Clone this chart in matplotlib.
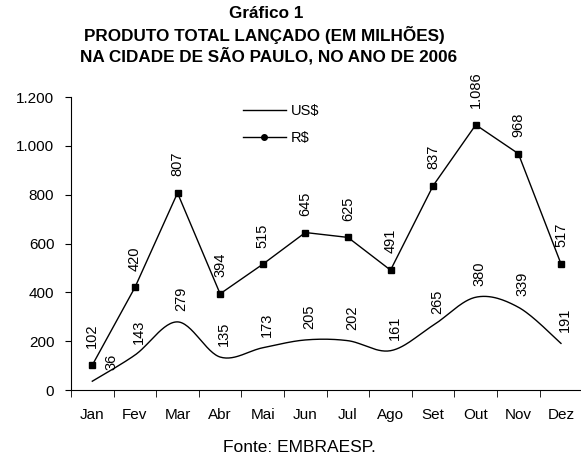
import numpy as np
import matplotlib.pyplot as plt
from matplotlib.lines import Line2D

plt.rcParams['font.family'] = ['Liberation Sans', 'DejaVu Sans']

# data
meses = ['Jan', 'Fev', 'Mar', 'Abr', 'Mai', 'Jun', 'Jul', 'Ago', 'Set', 'Out', 'Nov', 'Dez']
usd = [36, 143, 279, 135, 173, 205, 202, 161, 265, 380, 339, 191]
brl = [102, 420, 807, 394, 515, 645, 625, 491, 837, 1086, 968, 517]
yticks = [0, 200, 400, 600, 800, 1000, 1200]
ytick_labels = ['0', '200', '400', '600', '800', '1.000', '1.200']


def fmt(v):
    # thousands separator as dot
    return f'{v:,}'.replace(',', '.')


def smooth(x, y, n=30):
    # Catmull-Rom spline through the points (like a "smoothed line")
    x = np.asarray(x, float)
    y = np.asarray(y, float)
    px = np.concatenate([[x[0]], x, [x[-1]]])
    py = np.concatenate([[y[0]], y, [y[-1]]])
    xs, ys = [], []
    t = np.linspace(0, 1, n)
    for i in range(1, len(px) - 2):
        for p, out in ((px, xs), (py, ys)):
            p0, p1, p2, p3 = p[i - 1], p[i], p[i + 1], p[i + 2]
            out.extend(0.5 * (2 * p1 + (-p0 + p2) * t
                              + (2 * p0 - 5 * p1 + 4 * p2 - p3) * t ** 2
                              + (-p0 + 3 * p1 - 3 * p2 + p3) * t ** 3))
    return np.array(xs), np.array(ys)


fig = plt.figure(figsize=(5.81, 4.57), dpi=100)
ax = fig.add_axes([0.1222, 0.1466, 0.88, 0.6411])

x = np.arange(len(meses))
sx, sy = smooth(x, usd)
ax.plot(sx, sy, color='black', lw=1.0)
ax.plot(x, brl, color='black', lw=1.0, marker='s', markersize=4)

# data labels
for xi, v in zip(x, brl):
    ax.annotate(fmt(v), (xi, v), xytext=(0, 12), textcoords='offset points',
                rotation=90, ha='center', va='bottom', fontsize=10.5)
for xi, v in zip(x, usd):
    dx = 14 if xi == 0 else 3
    ax.annotate(fmt(v), (xi, v), xytext=(dx, 8), textcoords='offset points',
                rotation=90, ha='center', va='bottom', fontsize=10.5)

ax.set_xlim(-0.5, len(meses) - 0.5)
ax.set_ylim(0, 1200)
ax.set_yticks(yticks)
ax.set_yticklabels(ytick_labels, fontsize=11)
ax.set_xticks(x)
ax.set_xticklabels(meses, fontsize=11)
ax.set_xticks(np.arange(-0.5, len(meses), 1), minor=True)
ax.tick_params(axis='x', which='major', length=0, pad=13)
ax.tick_params(axis='x', which='minor', length=5, direction='out')
ax.tick_params(axis='y', length=4, direction='out', pad=8)
for s in ['top', 'right']:
    ax.spines[s].set_visible(False)

handles = [Line2D([], [], color='black', lw=1.0),
           Line2D([], [], color='black', lw=1.0, marker='o', markersize=4)]
ax.legend(handles, ['US$', 'R$'], loc='upper left', bbox_to_anchor=(0.31, 1.02),
          frameon=False, fontsize=10.5, handlelength=3.0, handletextpad=0.3,
          labelspacing=0.9)

title_kw = dict(ha='center', va='center', fontsize=12.3, fontweight='bold')
fig.text(0.458, 0.970, 'Gráfico 1', **title_kw)
fig.text(0.455, 0.923, 'PRODUTO TOTAL LANÇADO (EM MILHÕES)', **title_kw)
fig.text(0.462, 0.879, 'NA CIDADE DE SÃO PAULO, NO ANO DE 2006', **title_kw)
fig.text(0.515, 0.02, 'Fonte: EMBRAESP.', ha='center', va='center', fontsize=12.5)

plt.savefig('out.png', dpi=100)
